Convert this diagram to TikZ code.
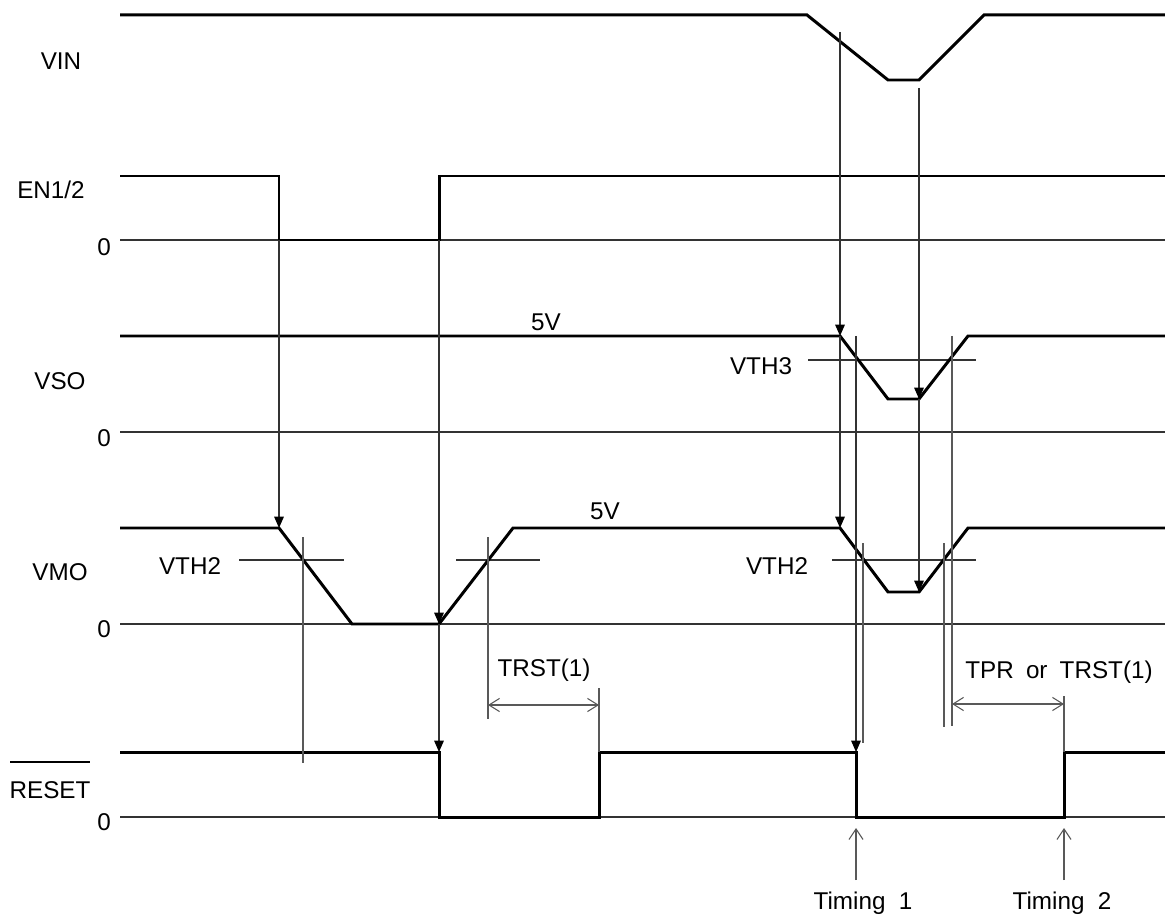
\documentclass[tikz,border=0pt]{standalone}
\usepackage{fontspec}
\setmainfont{Liberation Sans}
\usetikzlibrary{arrows.meta}
\begin{document}
\begin{tikzpicture}[x=0.02cm,y=-0.02cm,
  sig/.style={line width=1.7pt,line join=miter,black},
  thin/.style={line width=0.6pt,black!65},
  ref/.style={line width=0.6pt,black!80},
  tri/.style={line width=0.6pt,black!80,-{Triangle[length=6.5pt,width=5.5pt,color=black]}},
  dim/.style={thin,{Straight Barb[length=6pt,width=7.5pt]}-{Straight Barb[length=6pt,width=7.5pt]}},
  tim/.style={thin,-{Straight Barb[length=6pt,width=8pt]}},
  lab/.style={inner sep=0pt,font=\fontsize{13.8}{16}\selectfont}]
\useasboundingbox (0,0) rectangle (1165,918);
% labels
\node[lab] (lvin) at (61,61) {VIN};
\node[lab] (len) at (51,190) {EN1/2};
\node[lab] (len0) at (104,247) {0};
\node[lab] (lvso) at (60,381) {VSO};
\node[lab] (lvso0) at (104,438) {0};
\node[lab] (lvmo) at (60,572) {VMO};
\node[lab] (lvmo0) at (104,629) {0};
\node[lab] (lrst) at (50,790) {RESET};
\node[lab] (lrst0) at (104,822) {0};
\draw[line width=0.9pt] (10,762) -- (90,762);
\node[lab] (l5va) at (546,322) {5V};
\node[lab] (l5vb) at (605,511) {5V};
\node[lab] (lvth3) at (761,366) {VTH3};
\node[lab] (lvth2a) at (190,566) {VTH2};
\node[lab] (lvth2b) at (777,566) {VTH2};
\node[lab] (ltrst) at (544,670) {TRST(1)};
\node[lab] (ltpr) at (1059,672) {TPR\hspace{0.5em}or\hspace{0.5em}TRST(1)};
\node[lab] (lt1) at (863,903) {Timing\hspace{0.55em}1};
\node[lab] (lt2) at (1062,903) {Timing\hspace{0.55em}2};
% zero lines
\draw[ref] (120,240) -- (1165,240);
\draw[ref] (120,432) -- (1165,432);
\draw[ref] (120,624) -- (1165,624);
\draw[ref] (120,817) -- (1165,817);
% threshold lines
\draw[ref] (808,360) -- (976,360);
\draw[ref] (239,560) -- (344,560);
\draw[ref] (456,560) -- (540,560);
\draw[ref] (832,560) -- (976,560);
% signals
\draw[sig] (120,15) -- (807,15) -- (888,80) -- (919,80) -- (984,15) -- (1165,15);
\draw[sig] (120,176) -- (279,176) -- (279,240) -- (439,240) -- (439,176) -- (1165,176);
\draw[sig] (120,336) -- (840,336) -- (888,399) -- (919,399) -- (968,336) -- (1165,336);
\draw[sig] (120,528) -- (279,528) -- (352,624) -- (439,624) -- (513,528) -- (840,528) -- (888,592) -- (919,592) -- (968,528) -- (1165,528);
\draw[sig] (120,752) -- (439,752) -- (439,817) -- (599,817) -- (599,752) -- (856,752) -- (856,817) -- (1064,817) -- (1064,752) -- (1165,752);
% coordinates
\coordinate (enF) at (279,240);
\coordinate (enR) at (439,240);
\coordinate (vmoF) at (279,528);
\coordinate (vmoB) at (439,624);
\coordinate (rstF) at (439,752);
\coordinate (vinA) at (840,32);
\coordinate (vsoA) at (840,336);
\coordinate (vmoA) at (840,528);
\coordinate (vinB) at (919,88);
\coordinate (vsoB) at (919,399);
\coordinate (vmoBB) at (919,592);
\coordinate (c856t) at (856,336);
\coordinate (rstF2) at (856,752);
% trigger arrows
\draw[tri] (enF) -- (vmoF);
\draw[tri] (enR) -- (vmoB);
\draw[tri] (vmoB) -- (rstF);
\draw[tri] (vinA) -- (vsoA);
\draw[tri] (vsoA) -- (vmoA);
\draw[tri] (vinB) -- (vsoB);
\draw[tri] (vsoB) -- (vmoBB);
\draw[tri] (c856t) -- (rstF2);
% crossing verticals
\draw[thin] (303,537) -- (303,763);
\draw[thin] (488,537) -- (488,719);
\draw[thin] (599,688) -- (599,752);
\draw[thin] (863,543) -- (863,743);
\draw[thin] (944,543) -- (944,727);
\draw[thin] (952,336) -- (952,726);
\draw[thin] (1064,696) -- (1064,752);
% dimensions
\coordinate (d1a) at (488,705);
\coordinate (d1b) at (599,705);
\coordinate (d2a) at (952,704);
\coordinate (d2b) at (1064,704);
\draw[dim] (d1a) -- (d1b);
\draw[dim] (d2a) -- (d2b);
% timing arrows
\coordinate (t1a) at (856,880);
\coordinate (t1b) at (856,828);
\coordinate (t2a) at (1064,880);
\coordinate (t2b) at (1064,828);
\draw[tim] (t1a) -- (t1b);
\draw[tim] (t2a) -- (t2b);
\end{tikzpicture}
\end{document}
